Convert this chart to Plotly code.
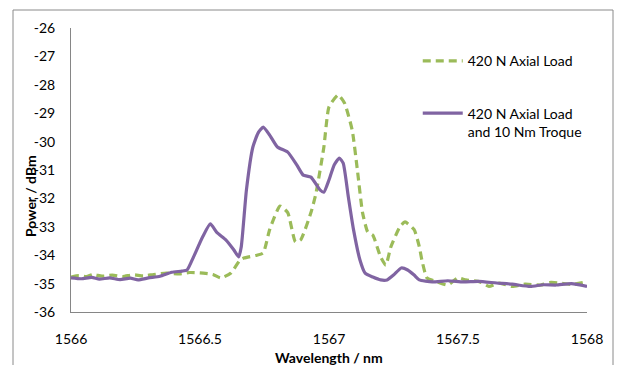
import plotly.graph_objects as go

# 420 N Axial Load
wl_axial = [1566.00, 1566.03, 1566.06, 1566.085, 1566.12, 1566.16, 1566.20, 1566.24, 1566.28, 1566.32,
            1566.37, 1566.42, 1566.46, 1566.50, 1566.55, 1566.58, 1566.62, 1566.655, 1566.67, 1566.72,
            1566.745, 1566.77, 1566.81, 1566.84, 1566.87, 1566.89, 1566.93, 1566.95, 1566.98, 1567.00,
            1567.035, 1567.06, 1567.09, 1567.11, 1567.13, 1567.15, 1567.17, 1567.20, 1567.22, 1567.24,
            1567.275, 1567.295, 1567.33, 1567.35, 1567.36, 1567.38, 1567.42, 1567.46, 1567.50, 1567.53,
            1567.585, 1567.62, 1567.66, 1567.71, 1567.76, 1567.82, 1567.86, 1567.895, 1567.94, 1568.00]
p_axial = [-34.77, -34.72, -34.75, -34.68, -34.74, -34.70, -34.75, -34.69, -34.73, -34.68,
           -34.63, -34.66, -34.61, -34.62, -34.68, -34.80, -34.63, -34.17, -34.10, -34.00,
           -33.92, -33.10, -32.27, -32.50, -33.53, -33.46, -32.50, -31.80, -30.20, -28.78,
           -28.36, -28.64, -29.60, -31.00, -32.50, -33.18, -33.30, -34.06, -34.35, -33.70,
           -33.00, -32.83, -33.10, -33.70, -34.17, -34.80, -34.94, -35.05, -34.80, -34.87,
           -34.94, -35.10, -34.98, -35.10, -35.02, -35.05, -34.96, -34.98, -35.03, -34.94]

# 420 N Axial Load and 10 Nm Troque
wl_torque = [1566.00, 1566.04, 1566.08, 1566.11, 1566.15, 1566.19, 1566.23, 1566.26, 1566.30, 1566.345,
             1566.39, 1566.43, 1566.45, 1566.475, 1566.51, 1566.54, 1566.565, 1566.60, 1566.63, 1566.65,
             1566.66, 1566.68, 1566.705, 1566.725, 1566.745, 1566.77, 1566.80, 1566.84, 1566.875, 1566.90,
             1566.93, 1566.965, 1566.98, 1567.00, 1567.02, 1567.04, 1567.055, 1567.075, 1567.095, 1567.12,
             1567.14, 1567.17, 1567.20, 1567.225, 1567.25, 1567.28, 1567.305, 1567.33, 1567.35, 1567.40,
             1567.46, 1567.52, 1567.58, 1567.65, 1567.71, 1567.78, 1567.83, 1567.88, 1567.94, 1568.00]
p_torque = [-34.80, -34.83, -34.78, -34.84, -34.80, -34.86, -34.81, -34.87, -34.80, -34.74,
            -34.60, -34.56, -34.52, -34.06, -33.36, -32.90, -33.20, -33.46, -33.80, -34.06,
            -33.70, -31.70, -30.19, -29.70, -29.49, -29.77, -30.19, -30.37, -30.82, -31.18,
            -31.25, -31.70, -31.78, -31.35, -30.82, -30.58, -30.76, -31.95, -33.10, -34.17,
            -34.63, -34.77, -34.87, -34.87, -34.70, -34.45, -34.52, -34.70, -34.87, -34.94,
            -34.90, -34.94, -34.92, -34.98, -35.02, -35.10, -35.04, -35.05, -35.00, -35.10]

x_ticks = [1566, 1566.5, 1567, 1567.5, 1568]
y_ticks = [-26, -27, -28, -29, -30, -31, -32, -33, -34, -35, -36]

FONT = "Lato"

fig = go.Figure()
fig.add_trace(go.Scatter(
    x=wl_axial, y=p_axial, mode="lines", name="420 N Axial Load",
    line=dict(color="#9BBB59", width=3.2, dash="8px,5px", shape="spline", smoothing=0.5),
    legendgroup="a"))
fig.add_trace(go.Scatter(
    x=wl_torque, y=p_torque, mode="lines", name="420 N Axial Load<br>and 10 Nm Troque",
    line=dict(color="#8064A2", width=3.2, shape="spline", smoothing=0.5),
    legendgroup="b"))

fig.update_layout(
    width=618, height=365,
    margin=dict(l=71, r=31, t=28, b=53),
    paper_bgcolor="white", plot_bgcolor="white",
    font=dict(family=FONT, size=13, color="black"),
    showlegend=True,
    legend=dict(x=0.672, y=0.939, xanchor="left", yanchor="top",
                bgcolor="rgba(0,0,0,0)", borderwidth=0,
                font=dict(family=FONT, size=14, color="black"),
                itemwidth=40, valign="top", tracegroupgap=31),
    xaxis=dict(range=[1566, 1568], tickvals=x_ticks, ticktext=[str(v) for v in x_ticks],
               showgrid=False, zeroline=False, showline=True, linecolor="#868686", linewidth=1,
               ticks="outside", ticklen=14, tickcolor="rgba(0,0,0,0)",
               tickfont=dict(family=FONT, size=14, color="black")),
    yaxis=dict(range=[-36, -26], tickvals=y_ticks, ticktext=[str(v) for v in y_ticks],
               showgrid=False, zeroline=False, showline=True, linecolor="#868686", linewidth=1,
               ticks="outside", ticklen=12, tickcolor="rgba(0,0,0,0)",
               tickfont=dict(family=FONT, size=14, color="black")),
    shapes=[dict(type="rect", xref="paper", yref="paper",
                 x0=(13 - 71) / 516, x1=(613 - 71) / 516,
                 y0=(312 - 380) / 284, y1=(312 - 10) / 284,
                 line=dict(color="#8A8A8A", width=1), fillcolor="rgba(0,0,0,0)", layer="below")],
    annotations=[
        dict(text="<b>Wavelength / nm</b>", xref="paper", yref="paper", x=0.5, y=(312 - 357) / 284,
             xanchor="center", yanchor="middle", showarrow=False,
             font=dict(family=FONT, size=14, color="black")),
        dict(text="<b>Power / dBm</b>", xref="paper", yref="paper", x=(30 - 71) / 516,
             y=(312 - 196) / 284, xanchor="center", yanchor="middle", textangle=-90,
             showarrow=False, font=dict(family=FONT, size=14, color="black")),
    ],
)

fig.write_html("out.html")
